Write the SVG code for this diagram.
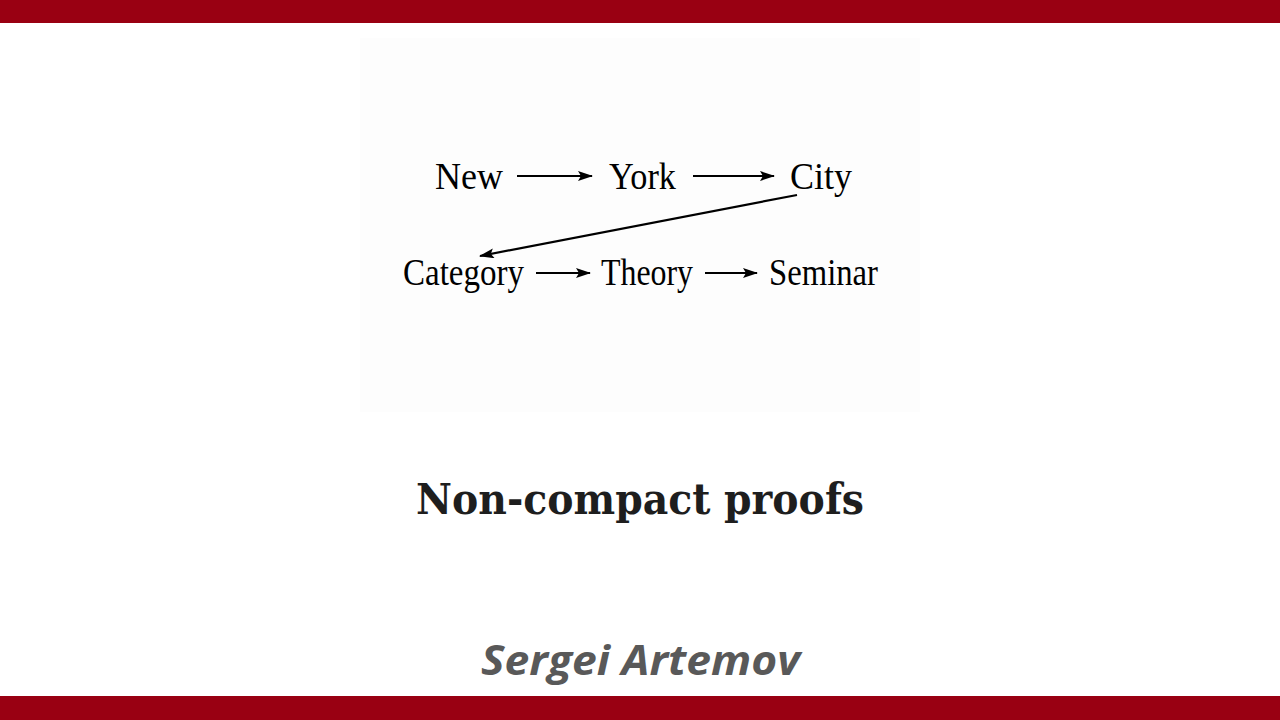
<svg xmlns="http://www.w3.org/2000/svg" width="1280" height="720" viewBox="0 0 1280 720">
<defs>
<marker id="ah" markerWidth="15" markerHeight="10" refX="14" refY="5" orient="auto" markerUnits="userSpaceOnUse">
<path d="M0,0 L15,5 L0,10 L3,5 Z" fill="#000"/>
</marker>
<style>
.n{font-family:"Liberation Serif","Times New Roman",serif;font-size:37px;fill:#000}
.c{stroke:#000;stroke-width:2.2;fill:none;marker-end:url(#ah)}
</style>
</defs>
<rect width="1280" height="720" fill="#fff"/>
<rect x="0" y="0" width="1280" height="23" fill="#990012"/>
<rect x="0" y="696" width="1280" height="24" fill="#990012"/>
<rect x="360" y="38" width="560" height="374" fill="#fdfdfd"/>
<g id="new"><text class="n" x="435" y="189" textLength="68" lengthAdjust="spacingAndGlyphs">New</text></g>
<g id="york"><text class="n" x="609" y="189" textLength="67" lengthAdjust="spacingAndGlyphs">York</text></g>
<g id="city"><text class="n" x="790" y="189" textLength="62" lengthAdjust="spacingAndGlyphs">City</text></g>
<g id="category"><text class="n" x="403" y="285" textLength="121" lengthAdjust="spacingAndGlyphs">Category</text></g>
<g id="theory"><text class="n" x="601" y="285" textLength="92" lengthAdjust="spacingAndGlyphs">Theory</text></g>
<g id="seminar"><text class="n" x="769" y="285" textLength="109" lengthAdjust="spacingAndGlyphs">Seminar</text></g>
<g id="connectors">
<line class="c" x1="517" y1="176" x2="592" y2="176"/>
<line class="c" x1="693" y1="176" x2="774" y2="176"/>
<line class="c" x1="797" y1="195" x2="480" y2="256"/>
<line class="c" x1="536" y1="273" x2="590" y2="273"/>
<line class="c" x1="705" y1="273" x2="757" y2="273"/>
</g>
<text x="416" y="514" textLength="448" lengthAdjust="spacingAndGlyphs" style="font-family:'DejaVu Serif','Liberation Serif',serif;font-weight:bold;font-size:42px;fill:#1e1e1e">Non-compact proofs</text>
<text x="481" y="675" textLength="319" lengthAdjust="spacingAndGlyphs" style="font-family:'Open Sans','DejaVu Sans',sans-serif;font-weight:bold;font-style:italic;font-size:42px;fill:#595959">Sergei Artemov</text>
</svg>
